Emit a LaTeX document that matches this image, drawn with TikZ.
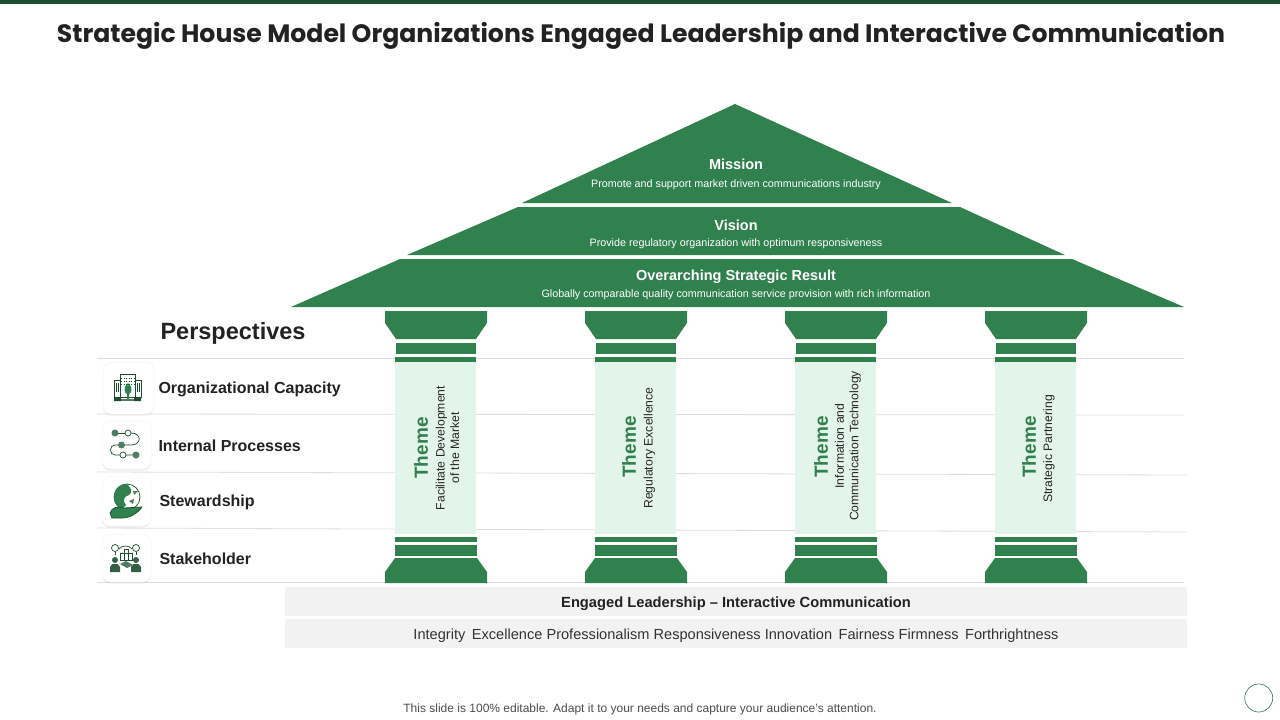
\documentclass[tikz,border=0pt]{standalone}
\usepackage{fontspec}
\setmainfont{Liberation Sans}
\newfontfamily\titlefont{Poppins}
\usepackage{tikz}
\usetikzlibrary{shadows}
\definecolor{roofgreen}{HTML}{31814F}
\definecolor{darkgreen}{HTML}{1C4E2F}
\definecolor{icongreen}{HTML}{4F7D63}
\definecolor{shaftgreen}{HTML}{E3F4EA}
\definecolor{rulegrey}{HTML}{DDDDDD}
\definecolor{bargrey}{HTML}{F2F2F2}
\definecolor{inkgrey}{HTML}{222222}
\newcommand{\fsz}[1]{\fontsize{#1}{#1}\selectfont}
\tikzset{
  roofpart/.style={fill=roofgreen},
  rooftext/.style={text=white,align=center,font=\fsz{10.75}},
  rowtext/.style={anchor=west,text=inkgrey,font=\fsz{16}\bfseries},
  themetext/.style={rotate=90,text=roofgreen,font=\fsz{19}\bfseries},
  pillartext/.style={rotate=90,text=black!85,align=center,font=\fontsize{12.2}{14.5}\selectfont},
  rowrule/.style={draw=rulegrey,line width=.8pt},
  iconbox/.style={fill=white,draw=black!5,line width=.5pt,rounded corners=8pt,
    drop shadow={opacity=.15,shadow xshift=0pt,shadow yshift=-1.5pt}},
  iconline/.style={draw=darkgreen,line width=.7pt},
}
\begin{document}
\begin{tikzpicture}[x=1pt,y=-1pt]
  \useasboundingbox (0,0) rectangle (1280,720);
  \fill[darkgreen] (0,0) rectangle (1280,4);
  \node[text=inkgrey,font=\titlefont\fsz{25.15}\bfseries] (title) at (641,35.5) {Strategic House Model Organizations Engaged Leadership and Interactive Communication};
  % roof
  \fill[roofpart] (735,104) -- (952,203) -- (522,203) -- cycle;
  \fill[roofpart] (518,207) -- (960,207) -- (1065,255) -- (407,255) -- cycle;
  \fill[roofpart] (400,259) -- (1072,259) -- (1184,307) -- (291,307) -- cycle;
  \node[rooftext] (mission) at (736,174) {{\fsz{14.5}\bfseries Mission}\\[7.5pt]Promote and support market driven communications industry};
  \node[rooftext] (vision) at (736,234) {{\fsz{14.5}\bfseries Vision}\\[5.5pt]Provide regulatory organization with optimum responsiveness};
  \node[rooftext] (result) at (736,285) {{\fsz{14.5}\bfseries Overarching Strategic Result}\\[5pt]Globally comparable quality communication service provision with rich information};
  % rows
  \draw[rowrule] (97,358) -- (1184,358);
  \draw[rowrule] (97,414) -- (1184,415);
  \draw[rowrule] (97,472) -- (1187,475);
  \draw[rowrule] (97,528) -- (1187,532);
  \draw[rowrule] (97,582) -- (1184,582);
  \node[anchor=west,text=inkgrey,font=\fsz{23.5}\bfseries] (perspectives) at (157,333) {Perspectives};
  % pillars
  \foreach \px in {436,636,836,1036} {
    \fill[roofgreen] (\px-51,311) -- (\px+51,311) -- (\px+51,323) -- (\px+40,339) -- (\px-40,339) -- (\px-51,323) -- cycle;
    \fill[roofgreen] (\px-40,343) rectangle (\px+40,354);
    \fill[roofgreen] (\px-41,357) rectangle (\px+40,362);
    \fill[shaftgreen] (\px-41,362) rectangle (\px+40,534);
    \fill[roofgreen] (\px-41,537) rectangle (\px+41,542);
    \fill[roofgreen] (\px-41,545) rectangle (\px+41,556);
    \fill[roofgreen] (\px-41,558) -- (\px+41,558) -- (\px+51,572) -- (\px+51,583) -- (\px-51,583) -- (\px-51,572) -- cycle;
  }
  \node[themetext] (themea) at (421,448) {Theme};
  \node[pillartext] (texta) at (447.5,448) {Facilitate Development\\of the Market};
  \node[themetext] (themeb) at (629,447) {Theme};
  \node[pillartext] (textb) at (649.5,448) {Regulatory Excellence};
  \node[themetext] (themec) at (821,447) {Theme};
  \node[pillartext] (textc) at (848,446) {Information and\\Communication Technology};
  \node[themetext] (themed) at (1029,447) {Theme};
  \node[pillartext] (textd) at (1049,449) {Strategic Partnering};
  % bars
  \fill[bargrey] (285,587) rectangle (1187,616);
  \fill[bargrey] (285,619) rectangle (1187,648);
  \node[text=inkgrey,font=\fsz{14.7}\bfseries] (engaged) at (736,604) {Engaged Leadership -- Interactive Communication};
  \node[text=black!80,font=\fsz{14.6}] (values) at (736,636) {Integrity\, Excellence Professionalism Responsiveness Innovation\, Fairness Firmness\, Forthrightness};
  % icon boxes
  \draw[iconbox] (103,362) rectangle (154,414);
  \draw[iconbox] (102,421) rectangle (151,469);
  \draw[iconbox] (102,477) rectangle (151,526);
  \draw[iconbox] (102,534) rectangle (151,582);
  \node[rowtext] (capacity) at (155,389.5) {Organizational Capacity};
  \node[rowtext] (processes) at (155,445.5) {Internal Processes};
  \node[rowtext] (steward) at (156,502) {Stewardship};
  \node[rowtext] (holder) at (156,558.5) {Stakeholder};
  % building icon
  \draw[iconline,fill=white] (120,374) rectangle (135,397);
  \draw[iconline,fill=white] (114,380) rectangle (120,397);
  \draw[iconline,fill=white] (135,380) rectangle (141,397);
  \foreach \wy in {378,381,384} \draw[iconline,line width=.5pt,dotted] (121,\wy) -- (134,\wy);
  \foreach \wx in {116,118,137,139} \draw[iconline,line width=.5pt] (\wx,383) -- (\wx,392);
  \fill[darkgreen] (114,397) rectangle (121,401) (134,397) rectangle (141,401);
  \fill[icongreen] (121,399) rectangle (134,401);
  \fill[roofgreen] (128,383) .. controls (133,387) and (132,393) .. (129,394) -- (129,399) -- (127,399) -- (127,394) .. controls (124,393) and (123,387) .. (128,383) -- cycle;
  % process icon
  \draw[iconline] (115,433) -- (128,433);
  \draw[iconline] (131,433) .. controls (142,433) and (142,445) .. (131,445) -- (115,445) .. controls (109,445) and (109,455) .. (115,455) -- (136,455);
  \fill[icongreen] (115,433) circle[radius=3.5];
  \draw[iconline,fill=white] (128,433) circle[radius=3];
  \fill[icongreen] (121.5,445) circle[radius=3.5];
  \draw[iconline,fill=white] (123,455) circle[radius=3];
  \fill[icongreen] (136,455) circle[radius=3.5];
  % globe icon
  \draw[iconline,fill=white] (127,497) circle[radius=13];
  \fill[roofgreen] (127,484) .. controls (118,484) and (114,491) .. (114,497) .. controls (114,503) and (117,507) .. (122,509) -- (126,505) .. controls (122,501) and (124,496) .. (129,495) .. controls (133,493) and (131,487) .. (127,484) -- cycle;
  \fill[icongreen] (133,491) -- (138,491) -- (134,495) -- cycle (129,501) -- (134,499) -- (133,504) -- cycle;
  \draw[iconline,fill=roofgreen] (110,513) .. controls (112,507) and (118,506) .. (123,508) -- (142,507) .. controls (138,513) and (130,518) .. (122,518) -- (112,518) -- cycle;
  % stakeholder icon
  \foreach \cx in {115,136} {
    \draw[iconline] (\cx,548) circle[radius=3.5];
    \draw[iconline,dashed,line width=.4pt] (\cx,552) -- (\cx,557);
    \fill[darkgreen!90] (\cx,560) circle[radius=3] (\cx-5,572) -- (\cx-5,567) -- (\cx-2.5,564) -- (\cx+2.5,564) -- (\cx+5,567) -- (\cx+5,572) -- cycle;
  }
  \draw[iconline] (119,549) .. controls (122,545) and (129,545) .. (132,549);
  \draw[iconline] (120,553) rectangle (132,560) (124,549) rectangle (128,560);
  \fill[icongreen] (120,564) -- (126,561) -- (133,565) -- (127,568) -- cycle;
  % footer
  \node[text=black!70,font=\fsz{12}] (footer) at (640,709) {This slide is 100\% editable. Adapt it to your needs and capture your audience's attention.};
  \draw[roofgreen!70!gray,line width=.7pt] (1258.7,698) circle[radius=14];
\end{tikzpicture}
\end{document}
